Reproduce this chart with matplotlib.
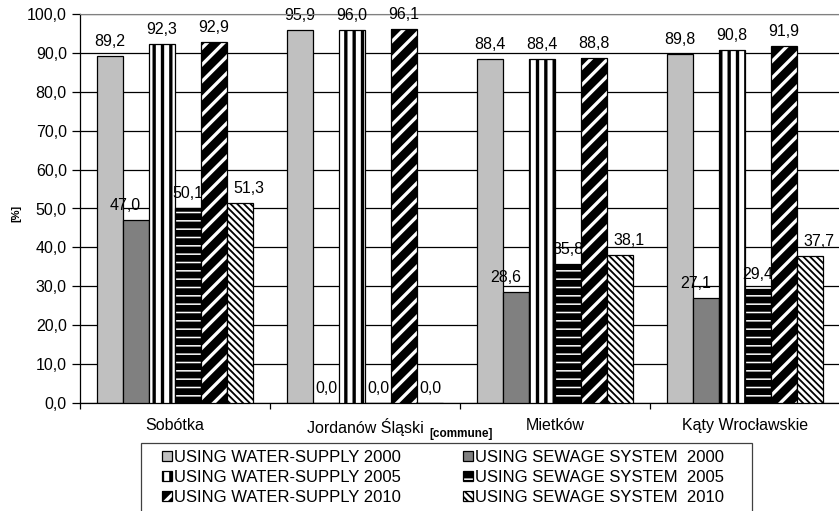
import matplotlib
matplotlib.use("Agg")
import matplotlib.pyplot as plt
import numpy as np
from matplotlib.patches import Rectangle

plt.rcParams["font.family"] = ["Liberation Sans", "DejaVu Sans"]
plt.rcParams["hatch.linewidth"] = 2.0

# ---- data ----
communes = ["Sobótka", "Jordanów Śląski", "Mietków", "Kąty Wrocławskie"]
water_2000 = [89.2, 95.9, 88.4, 89.8]
sewage_2000 = [47.0, 0.0, 28.6, 27.1]
water_2005 = [92.3, 96.0, 88.4, 90.8]
sewage_2005 = [50.1, 0.0, 35.8, 29.4]
water_2010 = [92.9, 96.1, 88.8, 91.9]
sewage_2010 = [51.3, 0.0, 38.1, 37.7]
series_names = [
    "USING WATER-SUPPLY 2000", "USING SEWAGE SYSTEM  2000",
    "USING WATER-SUPPLY 2005", "USING SEWAGE SYSTEM  2005",
    "USING WATER-SUPPLY 2010", "USING SEWAGE SYSTEM  2010",
]
y_ticks = [0, 10, 20, 30, 40, 50, 60, 70, 80, 90, 100]

series_values = [water_2000, sewage_2000, water_2005, sewage_2005, water_2010, sewage_2010]

# fill colour, hatch, hatch colour, hatch line width
styles = [
    ("#C0C0C0", None, None, 1.0),
    ("#808080", None, None, 1.0),
    ("white", "||", "black", 2.4),
    ("black", "--", "white", 1.1),
    ("black", "//", "white", 2.4),
    ("white", "\\" * 5, "black", 1.3),
]
# horizontal shift of value labels (points), used for non-zero bars
label_dx = [0, -7.5, 0, 0, 0, 6.5]


def use_hatch_width(artist, lw):
    """Give an artist its own hatch line width."""
    if hasattr(artist, "set_hatch_linewidth"):
        artist.set_hatch_linewidth(lw)
    artist._hatch_linewidth = lw
    orig = artist.draw

    def draw(renderer, *args, **kwargs):
        with plt.rc_context({"hatch.linewidth": lw}):
            return orig(renderer, *args, **kwargs)

    artist.draw = draw


W, H = 839, 511
fig = plt.figure(figsize=(W / 100, H / 100), dpi=100)
ax = fig.add_axes([80 / W, 1 - 403 / H, 760 / W, 389 / H])

n = len(series_values)
bw = 26 / 190
xc = np.arange(len(communes))
handles = []
for i, vals in enumerate(series_values):
    face, hatch, hcol, hlw = styles[i]
    x = xc + (i - (n - 1) / 2) * bw
    with plt.rc_context({"hatch.linewidth": hlw}):
        filled = ax.bar(x, vals, bw, color=face,
                        edgecolor=hcol if hatch else face,
                        hatch=hatch, linewidth=0, zorder=2 + i)
    for p in filled:
        use_hatch_width(p, hlw)
    outline = ax.bar(x, vals, bw, fill=False, edgecolor="black",
                     linewidth=0.9, zorder=2 + i)
    handles.append((filled, outline))
    for xj, v in zip(x, vals):
        dx = label_dx[i] if v > 0 else 0
        ax.annotate(f"{v:.1f}".replace(".", ","), (xj, v),
                    xytext=(dx, 5), textcoords="offset points",
                    ha="center", va="bottom", fontsize=11.5,
                    zorder=2 + i + 0.5)

ax.set_xlim(-0.5, len(communes) - 0.5)
ax.set_ylim(0, 100)
ax.set_yticks(y_ticks)
ax.set_yticklabels([f"{t:.1f}".replace(".", ",") for t in y_ticks], fontsize=11.5)
ax.tick_params(axis="y", direction="out", length=6, width=0.9, pad=3.5)
ax.set_xticks(xc)
ax.set_xticklabels(communes, fontsize=11.5)
ax.tick_params(axis="x", which="major", length=0, pad=11)
ax.set_xticks(np.arange(len(communes) + 1) - 0.5, minor=True)
ax.tick_params(axis="x", which="minor", direction="out", length=4, width=0.9)

ax.yaxis.grid(True, color="black", linewidth=0.9, zorder=0)
ax.set_axisbelow(True)
ax.spines["right"].set_visible(False)
ax.spines["top"].set_color("#808080")
ax.spines["left"].set_linewidth(0.9)
ax.spines["bottom"].set_linewidth(0.9)

fig.text(16 / W, 1 - 213 / H, "[%]", rotation=90, fontsize=8,
         fontweight="bold", ha="center", va="center")
fig.text(429 / W, 1 - 434 / H, "[commune]", fontsize=8.5,
         fontweight="bold", ha="left", va="center")

# legend: water series in the left column, sewage series in the right one
order = [0, 2, 4, 1, 3, 5]
leg = fig.legend([handles[k] for k in order], [series_names[k] for k in order],
                 ncol=2, loc="upper left", bbox_to_anchor=(162 / W, 1 - 450 / H),
                 frameon=False, borderpad=0, borderaxespad=0, fontsize=12,
                 handlelength=0.6, handleheight=0.6, handletextpad=0.12,
                 columnspacing=3.75, labelspacing=0.3)
for k, h in zip(order, leg.legend_handles):
    use_hatch_width(h, styles[k][3])
fig.add_artist(Rectangle((141 / W, -0.05), (752 - 141) / W, (1 - 443 / H) + 0.05,
                         transform=fig.transFigure, fill=False,
                         edgecolor="#404040", linewidth=0.9))

fig.savefig("out.png", dpi=100)
